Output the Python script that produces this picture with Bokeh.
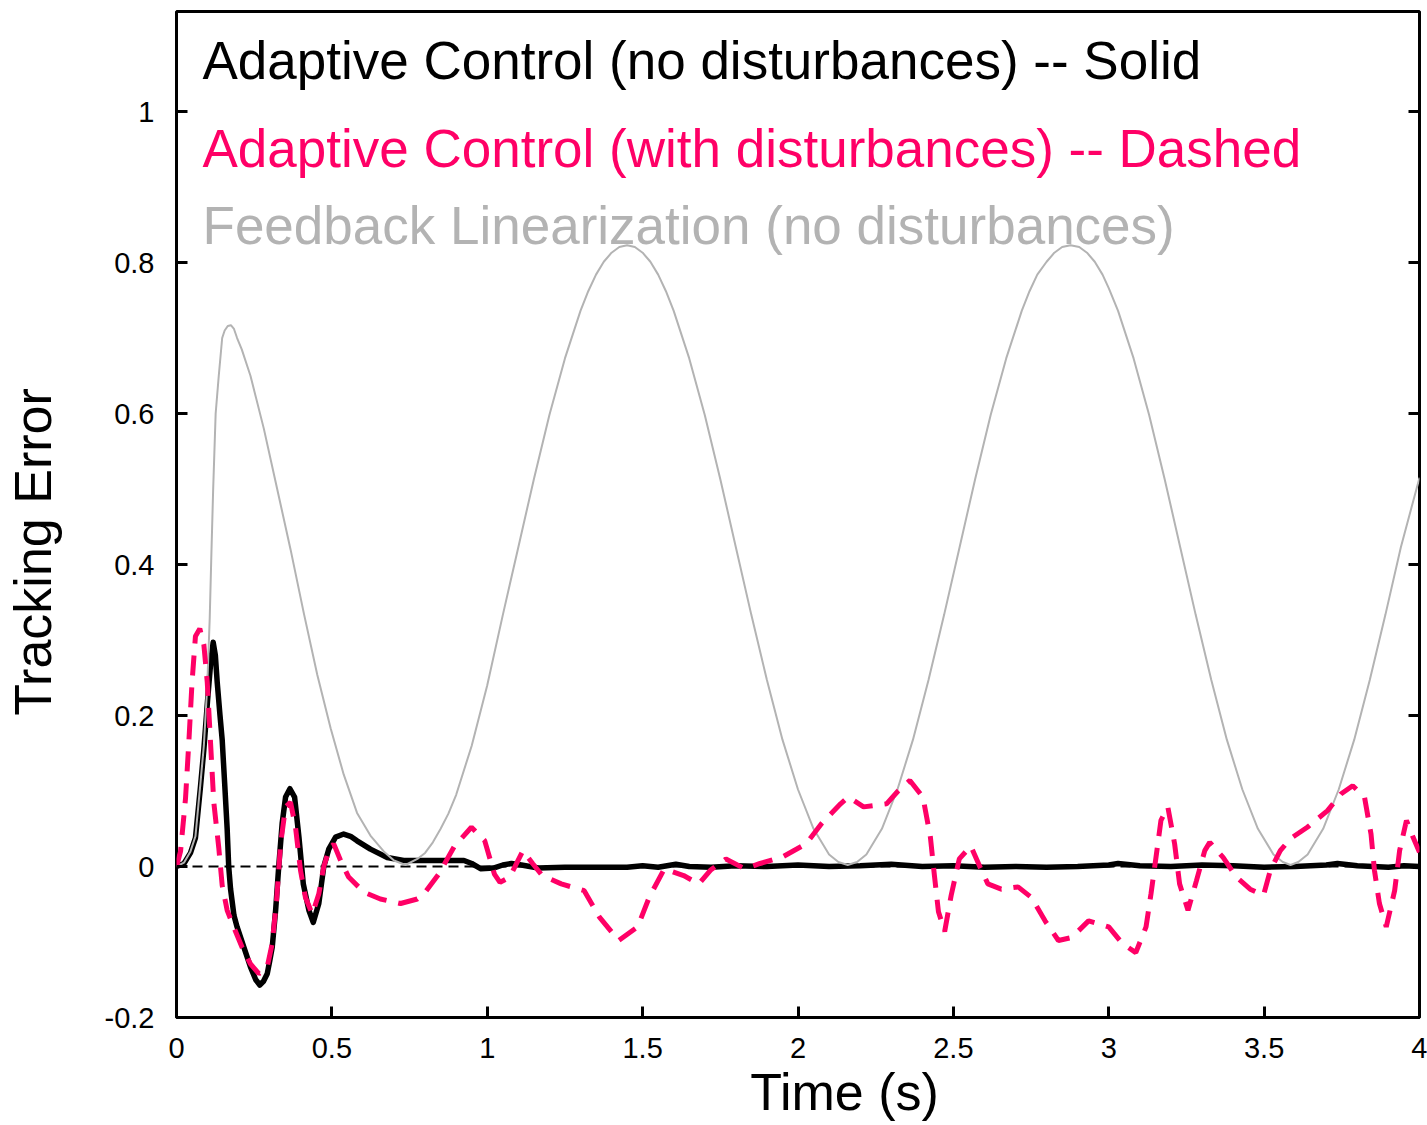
from bokeh.plotting import figure
from bokeh.models import (Range1d, FixedTicker, LinearAxis, Label, Span,
                          CustomJSTickFormatter)
from bokeh.embed import file_html
from bokeh.resources import INLINE

# ---------------- data ----------------
x_ticks = [0, 0.5, 1, 1.5, 2, 2.5, 3, 3.5, 4]
x_tick_labels = ["0", "0.5", "1", "1.5", "2", "2.5", "3", "3.5", "4"]
y_ticks = [-0.2, 0, 0.2, 0.4, 0.6, 0.8, 1.0]
y_tick_labels = ["-0.2", "0", "0.2", "0.4", "0.6", "0.8", "1"]

legend_texts = [
    "Adaptive Control (no disturbances) -- Solid",
    "Adaptive Control (with disturbances) -- Dashed",
    "Feedback Linearization (no disturbances)",
]
x_label = "Time (s)"
y_label = "Tracking Error"

# Feedback Linearization (no disturbances) -- gray
fl_t = [0, 0.024, 0.045, 0.061, 0.077, 0.088, 0.099, 0.107, 0.112, 0.118, 0.126,
        0.136, 0.147, 0.155, 0.165, 0.175, 0.185, 0.195, 0.21, 0.238, 0.281,
        0.324, 0.367, 0.410, 0.453, 0.496, 0.538, 0.581, 0.624, 0.667, 0.70,
        0.737, 0.775, 0.80, 0.825, 0.85, 0.875, 0.90, 0.95, 1.00, 1.05, 1.10,
        1.15, 1.20, 1.25, 1.30, 1.325, 1.35, 1.375, 1.40, 1.425, 1.45, 1.475,
        1.50, 1.525, 1.55, 1.575, 1.60, 1.65, 1.70, 1.75, 1.80, 1.85, 1.90,
        1.95, 2.00, 2.05, 2.10, 2.13, 2.16, 2.19, 2.22, 2.27, 2.32, 2.37, 2.42,
        2.47, 2.52, 2.57, 2.62, 2.67, 2.72, 2.745, 2.77, 2.80, 2.825, 2.85,
        2.877, 2.905, 2.93, 2.955, 2.98, 3.00, 3.03, 3.08, 3.13, 3.18, 3.23,
        3.28, 3.33, 3.38, 3.43, 3.48, 3.53, 3.56, 3.585, 3.61, 3.64, 3.69,
        3.74, 3.79, 3.84, 3.89, 3.94, 4.0]
fl_e = [0, 0.005, 0.02, 0.04, 0.11, 0.16, 0.24, 0.33, 0.41, 0.50, 0.60,
        0.65, 0.70, 0.71, 0.716, 0.717, 0.712, 0.70, 0.685, 0.65, 0.58,
        0.50, 0.42, 0.335, 0.254, 0.183, 0.122, 0.071, 0.041, 0.020, 0.008,
        0.002, 0.01, 0.018, 0.032, 0.05, 0.07, 0.095, 0.16, 0.24, 0.333, 0.423,
        0.513, 0.598, 0.673, 0.736, 0.762, 0.784, 0.801, 0.813, 0.8205, 0.823, 0.8205,
        0.813, 0.801, 0.784, 0.762, 0.736, 0.673, 0.598, 0.513, 0.423, 0.333, 0.247,
        0.168, 0.102, 0.050, 0.016, 0.006, 0.002, 0.006, 0.016, 0.05, 0.102, 0.168, 0.247,
        0.333, 0.423, 0.513, 0.598, 0.673, 0.736, 0.762, 0.784, 0.801, 0.813, 0.8205,
        0.823, 0.8205, 0.813, 0.801, 0.784, 0.766, 0.736, 0.673, 0.598, 0.513, 0.423,
        0.333, 0.247, 0.168, 0.102, 0.050, 0.016, 0.006, 0.002, 0.006, 0.016, 0.05,
        0.102, 0.168, 0.247, 0.333, 0.423, 0.515]

# Adaptive Control (no disturbances) -- solid black
ac_t = [0, 0.024, 0.045, 0.061, 0.077, 0.088, 0.10, 0.11, 0.118, 0.125, 0.131,
        0.14, 0.147, 0.155, 0.163, 0.168, 0.174, 0.185, 0.195, 0.217, 0.238,
        0.255, 0.268, 0.28, 0.292, 0.30, 0.308, 0.319, 0.329, 0.340, 0.351,
        0.365, 0.380, 0.394, 0.408, 0.426, 0.440, 0.458, 0.474, 0.490, 0.512,
        0.538, 0.56, 0.581, 0.624, 0.678, 0.731, 0.80, 0.925, 0.95, 0.98, 1.02,
        1.05, 1.078, 1.11, 1.164, 1.25, 1.35, 1.45, 1.50, 1.55, 1.607, 1.65,
        1.72, 1.80, 1.90, 2.00, 2.10, 2.20, 2.30, 2.40, 2.50, 2.60, 2.70, 2.80,
        2.90, 3.00, 3.03, 3.10, 3.20, 3.30, 3.40, 3.50, 3.60, 3.70, 3.736, 3.80,
        3.90, 3.95, 4.0]
ac_e = [0, 0.004, 0.018, 0.038, 0.105, 0.155, 0.22, 0.27, 0.297, 0.28, 0.244,
        0.20, 0.168, 0.11, 0.05, 0.0, -0.03, -0.065, -0.08, -0.107, -0.133,
        -0.15, -0.157, -0.152, -0.142, -0.125, -0.107, -0.058, 0.0, 0.057, 0.092,
        0.103, 0.092, 0.039, -0.023, -0.058, -0.074, -0.049, 0.0, 0.023, 0.039,
        0.043, 0.04, 0.034, 0.023, 0.012, 0.008, 0.008, 0.008, 0.004, -0.003, -0.002,
        0.002, 0.004, 0.002, -0.002, -0.001, -0.001, -0.001, 0.001, -0.001, 0.003, 0.0,
        -0.001, 0.001, 0.0, 0.002, 0.0, 0.001, 0.003, 0.0, 0.001, -0.001, 0.0, -0.001,
        0.0, 0.002, 0.004, 0.001, 0.0, 0.002, 0.001, -0.001, 0.0, 0.002, 0.004, 0.001,
        -0.001, 0.001, 0.0]

# Adaptive Control (with disturbances) -- dashed pink
ad_t = [0, 0.013, 0.029, 0.040, 0.050, 0.061, 0.075, 0.088, 0.099, 0.109, 0.120,
        0.136, 0.147, 0.163, 0.184, 0.211, 0.238, 0.265, 0.292, 0.308, 0.322,
        0.335, 0.351, 0.367, 0.383, 0.399, 0.415, 0.437, 0.458, 0.474, 0.490,
        0.506, 0.528, 0.554, 0.603, 0.656, 0.721, 0.775, 0.795, 0.844, 0.893,
        0.949, 0.992, 1.023, 1.041, 1.072, 1.115, 1.146, 1.177, 1.238, 1.312,
        1.361, 1.423, 1.484, 1.521, 1.570, 1.632, 1.681, 1.718, 1.768, 1.829,
        1.878, 1.952, 2.026, 2.076, 2.137, 2.162, 2.211, 2.285, 2.322, 2.36,
        2.402, 2.426, 2.439, 2.452, 2.472, 2.493, 2.519, 2.556, 2.585, 2.611,
        2.654, 2.708, 2.751, 2.795, 2.838, 2.881, 2.935, 3.000, 3.044, 3.087,
        3.120, 3.136, 3.152, 3.168, 3.190, 3.212, 3.228, 3.255, 3.282, 3.309,
        3.325, 3.368, 3.411, 3.455, 3.498, 3.520, 3.552, 3.585, 3.639, 3.704,
        3.747, 3.785, 3.823, 3.844, 3.855, 3.871, 3.893, 3.920, 3.936, 3.958,
        3.979, 4.0]
ad_e = [0, 0.02, 0.09, 0.167, 0.244, 0.305, 0.315, 0.294, 0.244, 0.168, 0.085,
        0.025, -0.025, -0.058, -0.08, -0.107, -0.129, -0.142, -0.133, -0.102, -0.045,
        0.030, 0.079, 0.085, 0.052, -0.005, -0.041, -0.063, -0.036, 0.0, 0.021,
        0.030, 0.008, -0.014, -0.034, -0.043, -0.049, -0.043, -0.037, -0.01, 0.026,
        0.052, 0.034, -0.01, -0.021, -0.014, 0.021, 0.004, -0.012, -0.023, -0.032,
        -0.067, -0.098, -0.080, -0.041, -0.003, -0.012, -0.023, -0.005, 0.010, -0.003,
        0.004, 0.013, 0.030, 0.057, 0.083, 0.092, 0.079, 0.083, 0.10, 0.114,
        0.092, 0.039, -0.012, -0.06, -0.086, -0.038, 0.010, 0.027, 0.0, -0.023,
        -0.030, -0.027, -0.041, -0.072, -0.098, -0.094, -0.072, -0.080, -0.102, -0.114,
        -0.080, -0.036, 0.012, 0.061, 0.079, 0.030, -0.023, -0.058, -0.019, 0.021,
        0.032, 0.012, -0.014, -0.030, -0.038, -0.005, 0.021, 0.037, 0.052, 0.074,
        0.096, 0.107, 0.092, 0.043, -0.005, -0.049, -0.080, -0.032, 0.021, 0.061,
        0.039, 0.019]

# ---------------- figure ----------------
FONT = "Liberation Sans"
PINK = "#ff0066"
GRAY = "#b3b3b3"

p = figure(width=1427, height=1125, output_backend="svg", toolbar_location=None,
           x_range=Range1d(0, 4), y_range=Range1d(-0.2, 1.1325),
           min_border_left=176, min_border_right=8, min_border_top=11,
           min_border_bottom=108)
p.background_fill_color = "white"
p.border_fill_color = "white"
p.grid.visible = False
p.outline_line_color = "black"
p.outline_line_width = 3


def style_axis(ax, ticks, labels=None):
    ax.ticker = FixedTicker(ticks=ticks)
    ax.axis_line_color = None
    ax.major_tick_line_color = "black"
    ax.major_tick_line_width = 3
    ax.major_tick_in = 11
    ax.major_tick_out = 0
    ax.minor_tick_line_color = None
    ax.major_label_text_font = FONT
    ax.major_label_text_color = "black"
    ax.major_label_text_font_size = "29px"
    if labels is not None:
        ax.major_label_overrides = {t: l for t, l in zip(ticks, labels)}
    else:
        ax.formatter = CustomJSTickFormatter(code="return ''")
        ax.major_label_standoff = 0


xa = p.xaxis[0]
style_axis(xa, x_ticks, x_tick_labels)
xa.major_label_standoff = 20

ya = p.yaxis[0]
style_axis(ya, y_ticks, y_tick_labels)
ya.major_label_standoff = 22

right_axis = LinearAxis()
style_axis(right_axis, y_ticks)
p.add_layout(right_axis, "right")

zero = Span(location=0, dimension="width", line_color="black", line_width=2,
            line_dash="10 6", level="underlay")
p.add_layout(zero)

p.line(ac_t, ac_e, line_color="black", line_width=5.5, line_join="round")
p.line(fl_t, fl_e, line_color=GRAY, line_width=2)
p.line(ad_t, ad_e, line_color=PINK, line_width=5, line_dash="20 12")

colors = ["black", PINK, GRAY]
ys = [1.0681, 0.9515, 0.8495]
for txt, c, yy in zip(legend_texts, colors, ys):
    p.add_layout(Label(x=0.0837, y=yy, text=txt, text_font=FONT, text_font_size="53px",
                       text_color=c, text_align="left", text_baseline="middle"))

# axis titles, placed in the side panels so that they are not clipped to the frame
p.add_layout(Label(x=2.1497, y=-0.2993, text=x_label, text_font=FONT,
                   text_font_size="52px", text_color="black",
                   text_align="center", text_baseline="middle"), "below")
p.add_layout(Label(x=-0.4602, y=0.4166, angle=1.5707963, text=y_label, text_font=FONT,
                   text_font_size="52px", text_color="black",
                   text_align="center", text_baseline="middle"), "left")

open("out.html", "w").write(file_html(p, INLINE))
